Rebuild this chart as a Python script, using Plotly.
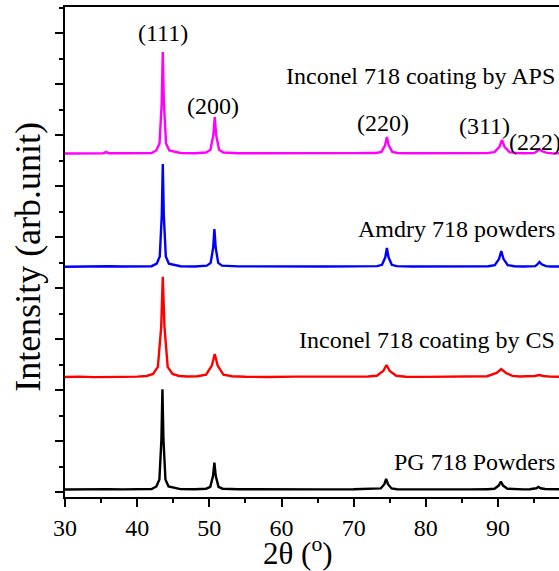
import plotly.graph_objects as go

# XRD patterns of Inconel 718 powders and coatings (2-theta in degrees, intensity in arb. units)
# Each pattern is stored relative to its own baseline; offsets stack them vertically.

tth_pg = [30, 32, 34, 36, 38, 40, 42,
          42.66, 43.08, 43.36, 43.5, 43.64, 43.92, 44.34,
          46, 48, 49.5,
          49.56, 50.13, 50.51, 50.7, 50.89, 51.27, 51.84,
          54, 58, 62, 66, 70, 72.5,
          73.0, 73.75, 74.25, 74.5, 74.75, 75.25, 76.0,
          78, 82, 86, 88.5,
          88.6, 89.5, 90.1, 90.4, 90.7, 91.3, 92.2,
          93.5,
          94.4, 95.0, 95.3, 95.6, 95.9, 96.5, 97.2,
          99, 100]
int_pg = [0, 5, 0, 8, 3, 6, 10,
          59, 196, 982, 1964, 982, 196, 59,
          8, 5, 12,
          16, 53, 263, 526, 263, 53, 16,
          5, 0, 6, 3, 5, 8,
          6, 21, 103, 206, 103, 21, 6,
          3, 5, 2, 8,
          5, 15, 77, 153, 77, 15, 5,
          3,
          4, 10, 25, 49, 25, 10, 4,
          2, 0]

tth_cs = [30, 32, 34, 36, 38, 40, 41.3,
          42.2, 42.87, 43.33, 43.55, 43.78, 44.23, 44.9, 45.8,
          47, 48.35,
          49.55, 50.35, 50.75, 51.15, 51.95, 53.15,
          55, 58, 62, 66, 70, 72.0,
          73.2, 74.1, 74.55, 75.0, 75.9, 77.25,
          80, 83, 86.55,
          88.5, 89.8, 90.45, 91.1, 92.0, 93.0, 94.0,
          94.5, 95.1, 95.7, 96.3, 97.2, 98.5, 100]
int_cs = [0, 8, -3, 6, 2, 8, 20,
          59, 197, 984, 1967, 984, 197, 59, 20,
          10, 14,
          45, 225, 451, 225, 45, 14,
          5, 0, 8, 3, 6, 10,
          24, 118, 235, 118, 24, 6,
          3, 6, 6,
          16, 79, 157, 79, 22, 10, 9,
          12, 20, 39, 20, 8, 3, 0]

tth_amdry = [30, 32, 34, 36, 38, 40, 42,
             42.71, 43.13, 43.41, 43.55, 43.69, 43.97, 44.39,
             46, 48, 49.6,
             49.65, 50.18, 50.53, 50.7, 50.88, 51.23, 51.75,
             54, 58, 62, 66, 70, 72.5,
             73.25, 73.93, 74.38, 74.6, 74.83, 75.28, 75.95,
             78, 82, 86, 88.5,
             88.65, 89.55, 90.15, 90.45, 90.75, 91.35, 92.25,
             93.5,
             94.55, 95.15, 95.45, 95.75, 96.05, 96.65, 97.35,
             99, 100]
int_amdry = [0, 6, 2, 8, 3, 7, 10,
             60, 201, 1006, 2013, 1006, 201, 60,
             10, 5, 15,
             20, 74, 370, 739, 370, 74, 20,
             6, 2, 8, 3, 6, 10,
             11, 37, 183, 366, 183, 37, 11,
             4, 6, 3, 9,
             9, 31, 154, 307, 154, 31, 9,
             5,
             5, 12, 46, 92, 46, 12, 5,
             3, 0]

tth_aps = [30, 32, 34, 35.3, 35.7, 36.1, 38, 40, 42,
           42.65, 43.1, 43.4, 43.55, 43.7, 44.0, 44.45,
           46, 48, 49.5,
           49.55, 50.15, 50.55, 50.75, 50.95, 51.35, 51.95,
           54, 58, 62, 66, 70, 72.5,
           73.1, 73.85, 74.35, 74.6, 74.85, 75.35, 76.1,
           78, 82, 86, 88.3,
           88.45, 89.5, 90.2, 90.55, 90.9, 91.6, 92.65,
           93.8,
           94.35, 95.05, 95.4, 95.75, 96.1, 96.8, 97.5,
           99, 100]
int_aps = [0, 5, 3, 6, 28, 6, 4, 8, 10,
           60, 199, 995, 1990, 995, 199, 60,
           10, 6, 14,
           19, 72, 358, 716, 358, 72, 19,
           6, 3, 8, 4, 7, 10,
           10, 32, 162, 324, 162, 32, 10,
           5, 7, 4, 10,
           8, 27, 133, 265, 133, 27, 8,
           6,
           5, 12, 44, 88, 44, 12, 5,
           3, 0]

offsets = [49, 2255, 4418, 6637]
colors = ["#000000", "#FF0000", "#0000FF", "#FF00FF"]
sample_names = ["PG 718 Powders", "Inconel 718 coating by CS",
                "Amdry 718 powders", "Inconel 718 coating by APS"]
name_y = [588, 2980, 5157, 8157]

hkl_labels = ["(111)", "(200)", "(220)", "(311)", "(222)"]
hkl_x = [43.58, 50.5, 74.06, 88.06, 95.12]
hkl_y = [9000, 7569, 7235, 7176, 6863]

patterns = [(tth_pg, int_pg), (tth_cs, int_cs), (tth_amdry, int_amdry), (tth_aps, int_aps)]

SERIF = "Liberation Serif"

fig = go.Figure()
for (tth, inten), off, col, nm in zip(patterns, offsets, colors, sample_names):
    fig.add_trace(go.Scatter(
        x=tth, y=[v + off for v in inten], mode="lines", name=nm,
        line=dict(color=col, width=2.4), showlegend=False, hoverinfo="skip"))

annotations = []
for nm, yv in zip(sample_names, name_y):
    annotations.append(dict(x=98.2, y=yv, xref="x", yref="y", text=nm, showarrow=False,
                            xanchor="right", yanchor="middle",
                            font=dict(family=SERIF, size=24, color="black")))
for lab, xv, yv in zip(hkl_labels, hkl_x, hkl_y):
    annotations.append(dict(x=xv, y=yv, xref="x", yref="y", text=lab, showarrow=False,
                            xanchor="center", yanchor="middle",
                            font=dict(family=SERIF, size=24, color="black")))
# axis titles
annotations.append(dict(x=62.3, y=-0.112, xref="x", yref="paper", text="2θ (<sup>o</sup>)",
                        showarrow=False, xanchor="center", yanchor="middle",
                        font=dict(family=SERIF, size=31, color="black")))
annotations.append(dict(x=-0.075, y=0.49, xref="paper", yref="paper", text="Intensity (arb.unit)",
                        textangle=-90, showarrow=False, xanchor="center", yanchor="middle",
                        font=dict(family=SERIF, size=36, color="black")))

fig.update_layout(
    width=559, height=571,
    margin=dict(l=65, r=0, t=7, b=74),
    paper_bgcolor="white", plot_bgcolor="white",
    font=dict(family=SERIF, color="black"),
    annotations=annotations,
    xaxis=dict(range=[30, 98.45], tick0=30, dtick=10, ticks="outside", ticklen=8, tickwidth=2,
               tickcolor="black", showline=True, linewidth=2, linecolor="black", mirror=True,
               showgrid=False, zeroline=False,
               tickfont=dict(family=SERIF, size=24, color="black"),
               minor=dict(dtick=5, ticks="outside", ticklen=4, tickwidth=2, tickcolor="black",
                          showgrid=False)),
    yaxis=dict(range=[-98, 9510], tick0=0, dtick=1000, ticks="outside", ticklen=8, tickwidth=2,
               tickcolor="black", showline=True, linewidth=2, linecolor="black",
               showticklabels=False, showgrid=False, zeroline=False,
               minor=dict(dtick=500, ticks="outside", ticklen=4, tickwidth=2, tickcolor="black",
                          showgrid=False)),
)

fig.write_html("out.html")
